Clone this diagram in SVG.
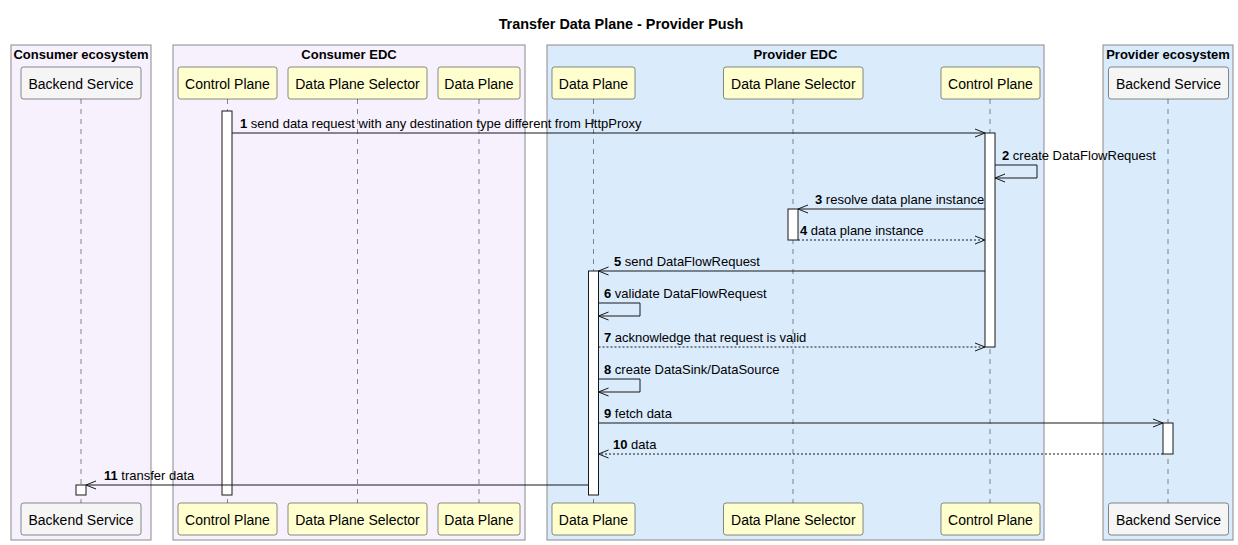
<svg xmlns="http://www.w3.org/2000/svg" width="1238" height="545" viewBox="0 0 1238 545">
<style>
.grp{stroke:#8a8a8a;stroke-width:1}
.gc{fill:#F6F1FD}
.gp{fill:#DAEBFC}
.gt{font-family:"Liberation Sans",Arial,sans-serif;font-size:13px;font-weight:bold;fill:#000;text-anchor:middle}
.title{font-family:"Liberation Sans",Arial,sans-serif;font-size:14.4px;font-weight:bold;fill:#000;text-anchor:middle}
.pb{stroke:#181818;stroke-width:0.5}
.py{fill:#FEFECE}
.pg{fill:#F5F5F5}
.pt{font-family:"Liberation Sans",Arial,sans-serif;font-size:14px;fill:#000;text-anchor:middle}
.life{stroke:#181818;stroke-width:0.5;stroke-dasharray:5,5;fill:none}
.act{fill:#fff;stroke:#181818;stroke-width:1}
.msg{stroke:#181818;stroke-width:1;fill:none;marker-end:url(#arr)}
.dash{stroke-dasharray:2,2}
.ml{font-family:"Liberation Sans",Arial,sans-serif;font-size:13px;fill:#000}
.ml tspan.n{font-weight:bold}
</style>
<defs>
<marker id="arr" markerUnits="userSpaceOnUse" markerWidth="12" markerHeight="10" refX="10" refY="4" orient="auto" overflow="visible">
<path d="M0,0 L10,4 L0,8" fill="none" stroke="#181818" stroke-width="1"/>
</marker>
</defs>
<rect width="1238" height="545" fill="#fff"/>
<text class="title" x="621" y="29">Transfer Data Plane - Provider Push</text>

<g id="box-consumer-ecosystem">
<rect class="grp gc" x="11" y="45" width="140" height="495"/>
<text class="gt" x="81" y="59">Consumer ecosystem</text>
</g>
<g id="box-consumer-edc">
<rect class="grp gc" x="173" y="45" width="352" height="495"/>
<text class="gt" x="349" y="59">Consumer EDC</text>
</g>
<g id="box-provider-edc">
<rect class="grp gp" x="547" y="45" width="497" height="495"/>
<text class="gt" x="795.5" y="59">Provider EDC</text>
</g>
<g id="box-provider-ecosystem">
<rect class="grp gp" x="1103" y="45" width="130" height="495"/>
<text class="gt" x="1168" y="59">Provider ecosystem</text>
</g>

<g id="lifelines">
<line class="life" x1="81" y1="99" x2="81" y2="503"/>
<line class="life" x1="227.5" y1="99" x2="227.5" y2="503"/>
<line class="life" x1="357.5" y1="99" x2="357.5" y2="503"/>
<line class="life" x1="479" y1="99" x2="479" y2="503"/>
<line class="life" x1="593.5" y1="99" x2="593.5" y2="503"/>
<line class="life" x1="793" y1="99" x2="793" y2="503"/>
<line class="life" x1="990" y1="99" x2="990" y2="503"/>
<line class="life" x1="1168" y1="99" x2="1168" y2="503"/>
</g>

<g id="consumer-backend-service">
<rect class="pb pg" x="21" y="67" width="120" height="32" rx="2.5"/>
<text class="pt" x="81" y="88.5">Backend Service</text>
<rect class="pb pg" x="21" y="503" width="120" height="32" rx="2.5"/>
<text class="pt" x="81" y="524.5">Backend Service</text>
<rect class="act" x="76" y="485" width="10" height="10"/>
</g>
<g id="consumer-control-plane">
<rect class="pb py" x="178" y="67" width="99" height="32" rx="2.5"/>
<text class="pt" x="227.5" y="88.5">Control Plane</text>
<rect class="pb py" x="178" y="503" width="99" height="32" rx="2.5"/>
<text class="pt" x="227.5" y="524.5">Control Plane</text>
<rect class="act" x="222" y="111" width="10" height="384"/>
</g>
<g id="consumer-data-plane-selector">
<rect class="pb py" x="288" y="67" width="139" height="32" rx="2.5"/>
<text class="pt" x="357.5" y="88.5">Data Plane Selector</text>
<rect class="pb py" x="288" y="503" width="139" height="32" rx="2.5"/>
<text class="pt" x="357.5" y="524.5">Data Plane Selector</text>
</g>
<g id="consumer-data-plane">
<rect class="pb py" x="438" y="67" width="82" height="32" rx="2.5"/>
<text class="pt" x="479" y="88.5">Data Plane</text>
<rect class="pb py" x="438" y="503" width="82" height="32" rx="2.5"/>
<text class="pt" x="479" y="524.5">Data Plane</text>
</g>
<g id="provider-data-plane">
<rect class="pb py" x="552" y="67" width="83" height="32" rx="2.5"/>
<text class="pt" x="593.5" y="88.5">Data Plane</text>
<rect class="pb py" x="552" y="503" width="83" height="32" rx="2.5"/>
<text class="pt" x="593.5" y="524.5">Data Plane</text>
<rect class="act" x="588.5" y="271" width="10" height="224"/>
</g>
<g id="provider-data-plane-selector">
<rect class="pb py" x="723.5" y="67" width="139.5" height="32" rx="2.5"/>
<text class="pt" x="793.3" y="88.5">Data Plane Selector</text>
<rect class="pb py" x="723.5" y="503" width="139.5" height="32" rx="2.5"/>
<text class="pt" x="793.3" y="524.5">Data Plane Selector</text>
<rect class="act" x="788" y="209" width="10" height="31"/>
</g>
<g id="provider-control-plane">
<rect class="pb py" x="941" y="67" width="99" height="32" rx="2.5"/>
<text class="pt" x="990.5" y="88.5">Control Plane</text>
<rect class="pb py" x="941" y="503" width="99" height="32" rx="2.5"/>
<text class="pt" x="990.5" y="524.5">Control Plane</text>
<rect class="act" x="985" y="133" width="10" height="214"/>
</g>
<g id="provider-backend-service">
<rect class="pb pg" x="1108.5" y="67" width="120" height="32" rx="2.5"/>
<text class="pt" x="1168.5" y="88.5">Backend Service</text>
<rect class="pb pg" x="1108.5" y="503" width="120" height="32" rx="2.5"/>
<text class="pt" x="1168.5" y="524.5">Backend Service</text>
<rect class="act" x="1163" y="423" width="10" height="31"/>
</g>

<g id="connectors">
<line class="msg" x1="232" y1="133" x2="985" y2="133"/>
<text class="ml" x="240" y="128"><tspan class="n">1</tspan> send data request with any destination type different from HttpProxy</text>

<polyline class="msg" points="995,165 1037,165 1037,178 995,178"/>
<text class="ml" x="1002" y="160"><tspan class="n">2</tspan> create DataFlowRequest</text>

<line class="msg" x1="985" y1="209" x2="798" y2="209"/>
<text class="ml" x="815" y="204"><tspan class="n">3</tspan> resolve data plane instance</text>

<line class="msg dash" x1="798" y1="240" x2="985" y2="240"/>
<text class="ml" x="800" y="235"><tspan class="n">4</tspan> data plane instance</text>

<line class="msg" x1="985" y1="271" x2="598.5" y2="271"/>
<text class="ml" x="614" y="266"><tspan class="n">5</tspan> send DataFlowRequest</text>

<polyline class="msg" points="598.5,303 640,303 640,316 598.5,316"/>
<text class="ml" x="604" y="298"><tspan class="n">6</tspan> validate DataFlowRequest</text>

<line class="msg dash" x1="598.5" y1="347" x2="985" y2="347"/>
<text class="ml" x="604" y="342"><tspan class="n">7</tspan> acknowledge that request is valid</text>

<polyline class="msg" points="598.5,379 640,379 640,392 598.5,392"/>
<text class="ml" x="604" y="374"><tspan class="n">8</tspan> create DataSink/DataSource</text>

<line class="msg" x1="598.5" y1="423" x2="1163" y2="423"/>
<text class="ml" x="604" y="418"><tspan class="n">9</tspan> fetch data</text>

<line class="msg dash" x1="1163" y1="454" x2="598.5" y2="454"/>
<text class="ml" x="613" y="449"><tspan class="n">10</tspan> data</text>

<line class="msg" x1="588.5" y1="485" x2="86" y2="485"/>
<text class="ml" x="104" y="480"><tspan class="n">11</tspan> transfer data</text>
</g>
</svg>
